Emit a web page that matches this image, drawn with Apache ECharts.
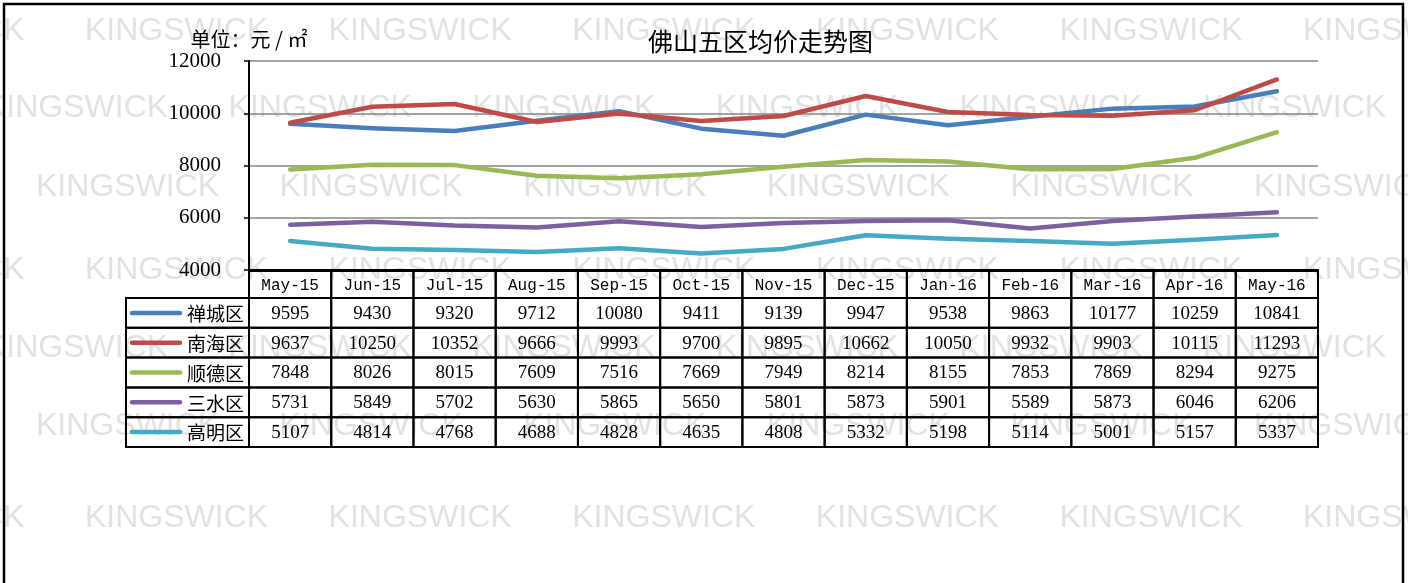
<!DOCTYPE html>
<html>
<head>
<meta charset="utf-8">
<script src="https://cdn.jsdelivr.net/npm/echarts@6/dist/echarts.min.js"></script>
<style>
html,body{margin:0;padding:0;background:#fff;}
#chart{width:1408px;height:583px;}
</style>
</head>
<body>
<div id="chart"></div>
<script>
// ---- data ----
const months = ['May-15','Jun-15','Jul-15','Aug-15','Sep-15','Oct-15','Nov-15','Dec-15','Jan-16','Feb-16','Mar-16','Apr-16','May-16'];
const seriesNames = ['禅城区','南海区','顺德区','三水区','高明区'];
const chancheng = [9595,9430,9320,9712,10080,9411,9139,9947,9538,9863,10177,10259,10841];
const nanhai    = [9637,10250,10352,9666,9993,9700,9895,10662,10050,9932,9903,10115,11293];
const shunde    = [7848,8026,8015,7609,7516,7669,7949,8214,8155,7853,7869,8294,9275];
const sanshui   = [5731,5849,5702,5630,5865,5650,5801,5873,5901,5589,5873,6046,6206];
const gaoming   = [5107,4814,4768,4688,4828,4635,4808,5332,5198,5114,5001,5157,5337];
const titleText = '佛山五区均价走势图';
const unitText = '单位：元 / ㎡';
const watermarkText = 'KINGSWICK';

const allValues = [chancheng, nanhai, shunde, sanshui, gaoming];
const colors = ['#4A7EBB','#BE4B48','#98B954','#7D60A0','#46AAC5'];

// ---- table cells (built from data arrays) ----
const cellData = [];
const cellInfo = [];
months.forEach((m, c) => { cellData.push([c, -1]); cellInfo.push({kind:'head', text:m}); });
seriesNames.forEach((n, r) => {
  cellData.push([-1, r]); cellInfo.push({kind:'label', text:n, color:colors[r]});
  allValues[r].forEach((v, c) => { cellData.push([c, r]); cellInfo.push({kind:'val', text:String(v)}); });
});

const LABEL_COL_MIN = -1.996, HEAD_ROW_MIN = -1.406;

function renderCell(params, api) {
  const c = api.value(0), r = api.value(1);
  const info = cellInfo[params.dataIndex];
  const x0 = c === -1 ? LABEL_COL_MIN : c - 0.5, x1 = c === -1 ? -0.5 : c + 0.5;
  const y0 = r === -1 ? HEAD_ROW_MIN : r - 0.5, y1 = r === -1 ? -0.5 : r + 0.5;
  const p0 = api.coord([x0, y0]), p1 = api.coord([x1, y1]);
  const w = p1[0] - p0[0], h = p1[1] - p0[1];
  const cy = p0[1] + h / 2;
  const children = [{
    type: 'rect',
    shape: {x: p0[0], y: p0[1], width: w, height: h},
    style: {fill: 'none', stroke: '#000', lineWidth: 2}
  }];
  if (info.kind === 'label') {
    children.push({
      type: 'line',
      shape: {x1: p0[0] + 6, y1: cy, x2: p0[0] + 54, y2: cy},
      style: {stroke: info.color, lineWidth: 4.5, lineCap: 'round'}
    });
    children.push({
      type: 'text',
      style: {x: p1[0] - 5, y: cy + 1, text: info.text, align: 'right', textAlign: 'right',
        verticalAlign: 'middle', textVerticalAlign: 'middle',
        font: '19px "Noto Sans CJK SC"', fill: '#000'}
    });
  } else {
    const font = info.kind === 'head' ? '16px "Liberation Mono"' : '19px "Liberation Serif"';
    children.push({
      type: 'text',
      style: {x: p0[0] + w / 2, y: cy + 1, text: info.text, align: 'center', textAlign: 'center',
        verticalAlign: 'middle', textVerticalAlign: 'middle', font: font, fill: '#000'}
    });
  }
  return {type: 'group', children: children};
}

// ---- watermark (background decoration) ----
const wmRows = [[31,85],[108,-15],[187,36],[270,85],[348,-15],[426,36],[518,85],[597,-15]];
const wmStep = 243.6;
const graphics = [];
wmRows.forEach(([y, x0]) => {
  for (let x = x0 - wmStep; x < 1408; x += wmStep) {
    graphics.push({
      type: 'text', z: -10, silent: true,
      style: {x: x, y: y, text: watermarkText, font: '32px "Liberation Sans"', fill: '#e2e2e2',
        verticalAlign: 'middle', textVerticalAlign: 'middle'}
    });
  }
});
graphics.push({
  type: 'rect', z: 100, silent: true,
  shape: {x: 4, y: 4, width: 1399, height: 620},
  style: {fill: 'none', stroke: '#000', lineWidth: 2.5}
});

const chart = echarts.init(document.getElementById('chart'));
chart.setOption({
  animation: false,
  backgroundColor: '#fff',
  title: {
    text: titleText, left: 643, top: 24,
    textStyle: {fontSize: 25, fontWeight: 'normal', color: '#000', fontFamily: '"Noto Sans CJK SC"'}
  },
  graphic: graphics,
  grid: [
    {left: 249, right: 90, top: 61, bottom: 313},
    {left: 126, right: 90, top: 271, bottom: 136}
  ],
  xAxis: [
    {type: 'category', gridIndex: 0, data: months, boundaryGap: true,
      axisLabel: {show: false}, axisTick: {show: false},
      axisLine: {lineStyle: {color: '#000', width: 2}}},
    {type: 'value', gridIndex: 1, min: LABEL_COL_MIN, max: 12.5, show: false}
  ],
  yAxis: [
    {type: 'value', gridIndex: 0, min: 4000, max: 12000, interval: 2000,
      name: unitText, nameLocation: 'end', nameGap: 12,
      nameTextStyle: {fontSize: 20, color: '#000', fontFamily: '"Noto Sans CJK SC"'},
      axisLine: {show: true, lineStyle: {color: '#000', width: 2}},
      axisTick: {show: true, length: 5, lineStyle: {color: '#000', width: 1.5}},
      axisLabel: {fontSize: 21, color: '#000', fontFamily: '"Liberation Serif"', margin: 28,
        formatter: v => String(v)},
      splitLine: {show: true, lineStyle: {color: '#868686', width: 1.5}}},
    {type: 'value', gridIndex: 1, min: HEAD_ROW_MIN, max: 4.5, inverse: true, show: false}
  ],
  series: seriesNames.map((n, i) => ({
    name: n, type: 'line', xAxisIndex: 0, yAxisIndex: 0,
    data: allValues[i], symbol: 'none', smooth: false,
    lineStyle: {color: colors[i], width: 4.5, cap: 'round', join: 'round'},
    itemStyle: {color: colors[i]}, silent: true
  })).concat([{
    type: 'custom', xAxisIndex: 1, yAxisIndex: 1, coordinateSystem: 'cartesian2d',
    data: cellData, renderItem: renderCell, silent: true, clip: false, z: 5
  }])
});
</script>
</body>
</html>
